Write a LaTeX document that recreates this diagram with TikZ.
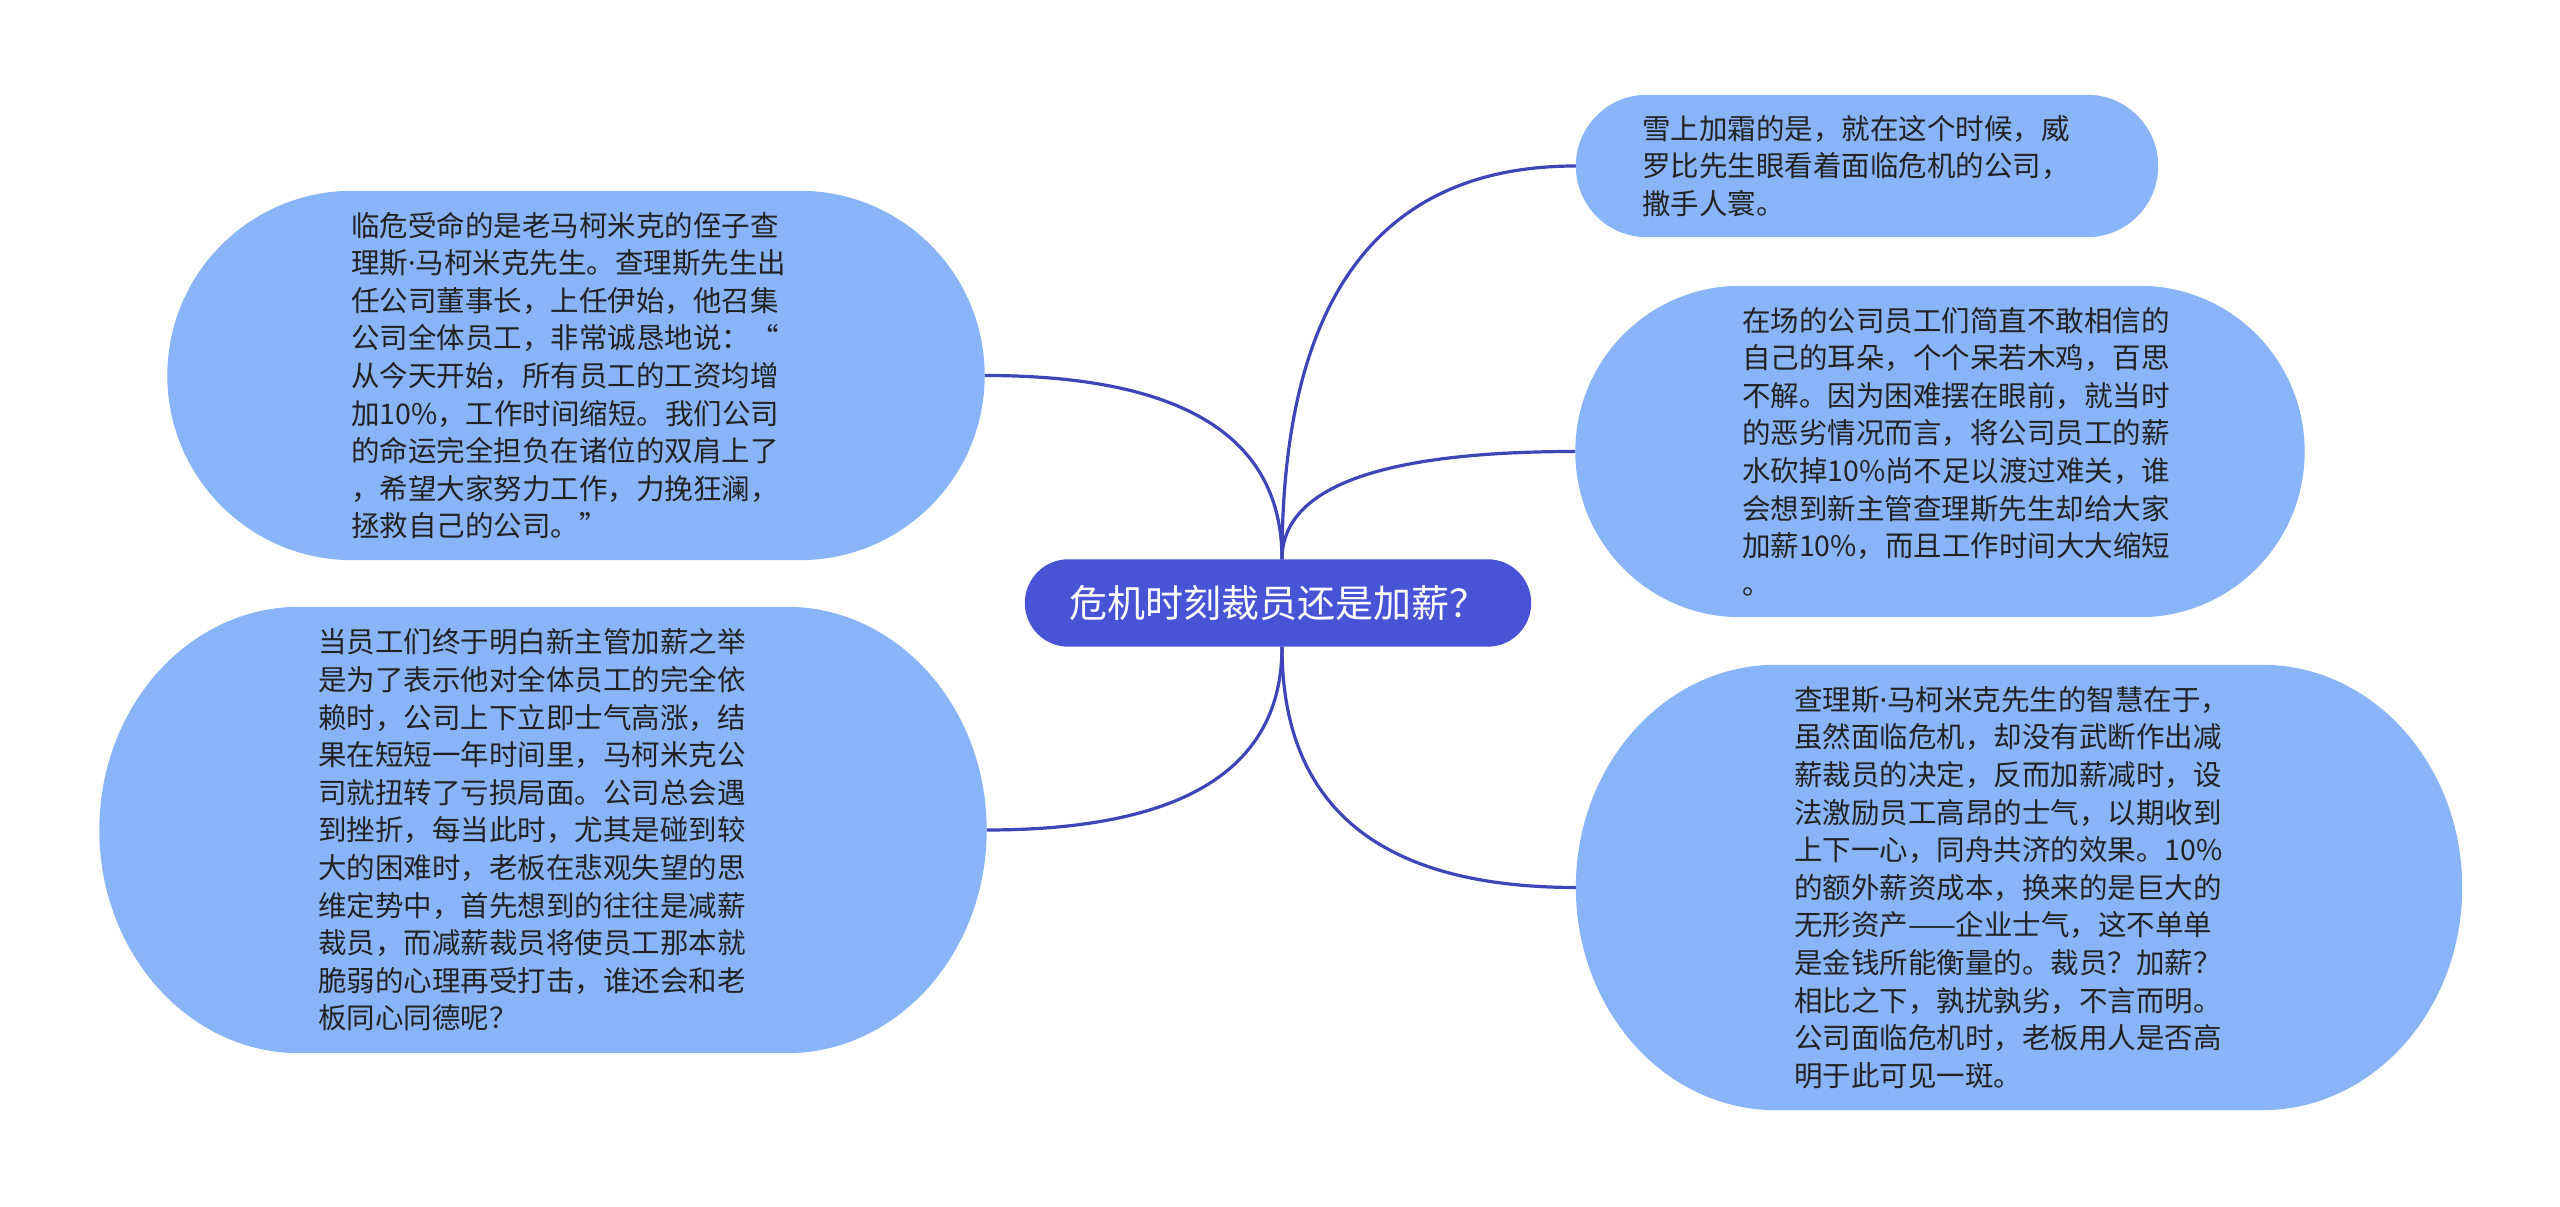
\documentclass[tikz,border=0pt]{standalone}
\usepackage{fontspec}
\setmainfont{Noto Sans CJK SC}
\newfontfamily\latinf{Noto Sans}
\usetikzlibrary{calc,backgrounds}
\definecolor{leaf}{HTML}{8AB4F8}
\definecolor{rootc}{HTML}{4853D6}
\definecolor{linec}{HTML}{3D45B8}
\definecolor{txtc}{HTML}{222222}
\newcommand\mdot{{\latinf ·}}
\newcommand\pill[3]{\fill[#3] let \p1=($(#1.north)-(#1.south)$) in
  ($(#1.north west)+(#2pt,0)$) -- ($(#1.north east)+(-#2pt,0)$)
  arc[start angle=90,end angle=-90,x radius=#2pt,y radius=0.5*\y1]
  -- ($(#1.south west)+(#2pt,0)$)
  arc[start angle=270,end angle=90,x radius=#2pt,y radius=0.5*\y1] -- cycle;}
\newcommand\link[2]{\draw[conn] (#1) .. controls ($(#1)!0.667!(#1|-#2)$) and ($(#2)!0.667!(#1|-#2)$) .. (#2);}
\begin{document}
\begin{tikzpicture}[x=1pt,y=1pt,
  leafnode/.style={rectangle, inner sep=0pt, text=txtc, align=left, text width=450pt,
    font=\fontsize{28.5}{37.6}\selectfont},
  rootnode/.style={rectangle, inner sep=0pt, text=white, align=center,
    font=\fontsize{38}{42}\selectfont, minimum width=506pt, minimum height=87pt},
  conn/.style={draw=linec, line width=3.2pt}]
\useasboundingbox (0,0) rectangle (2560,1207);

\node[rootnode] (root) at (1278,604) {危机时刻裁员还是加薪？};

\node[leafnode, minimum width=817pt, minimum height=369pt] (tl) at (576,831.5)
{临危受命的是老马柯米克的侄子查\\
理斯\mdot 马柯米克先生。查理斯先生出\\
任公司董事长，上任伊始，他召集\\
公司全体员工，非常诚恳地说：“\\
从今天开始，所有员工的工资均增\\
加10\%，工作时间缩短。我们公司\\
的命运完全担负在诸位的双肩上了\\
，希望大家努力工作，力挽狂澜，\\
拯救自己的公司。”};

\node[leafnode, minimum width=887pt, minimum height=446pt] (bl) at (543,377)
{当员工们终于明白新主管加薪之举\\
是为了表示他对全体员工的完全依\\
赖时，公司上下立即士气高涨，结\\
果在短短一年时间里，马柯米克公\\
司就扭转了亏损局面。公司总会遇\\
到挫折，每当此时，尤其是碰到较\\
大的困难时，老板在悲观失望的思\\
维定势中，首先想到的往往是减薪\\
裁员，而减薪裁员将使员工那本就\\
脆弱的心理再受打击，谁还会和老\\
板同心同德呢？};

\node[leafnode, minimum width=582pt, minimum height=142pt] (tr1) at (1867,1041)
{雪上加霜的是，就在这个时候，威\\
罗比先生眼看着面临危机的公司，\\
撒手人寰。};

\node[leafnode, text width=480pt, execute at begin node={\leftskip=42pt},
  minimum width=729pt, minimum height=331pt] (tr2) at (1940,755.5)
{在场的公司员工们简直不敢相信的\\
自己的耳朵，个个呆若木鸡，百思\\
不解。因为困难摆在眼前，就当时\\
的恶劣情况而言，将公司员工的薪\\
水砍掉10\%尚不足以渡过难关，谁\\
会想到新主管查理斯先生却给大家\\
加薪10\%，而且工作时间大大缩短\\
。};

\node[leafnode, minimum width=886pt, minimum height=445pt] (tr3) at (2019,319.5)
{查理斯\mdot 马柯米克先生的智慧在于，\\
虽然面临危机，却没有武断作出减\\
薪裁员的决定，反而加薪减时，设\\
法激励员工高昂的士气，以期收到\\
上下一心，同舟共济的效果。10\%\\
的额外薪资成本，换来的是巨大的\\
无形资产——企业士气，这不单单\\
是金钱所能衡量的。裁员？加薪？\\
相比之下，孰扰孰劣，不言而明。\\
公司面临危机时，老板用人是否高\\
明于此可见一斑。};

\coordinate (rN) at ($(root.north)+(4,0)$);
\coordinate (rS) at ($(root.south)+(4,0)$);

\begin{scope}[on background layer]
\fill[white] (0,0) rectangle (2560,1207);
\link{rN}{tl.east}
\link{rS}{bl.east}
\link{rN}{tr1.west}
\link{rN}{tr2.west}
\link{rS}{tr3.west}
\pill{root}{43.5}{rootc}
\pill{tl}{185}{leaf}
\pill{bl}{200}{leaf}
\pill{tr1}{71}{leaf}
\pill{tr2}{165}{leaf}
\pill{tr3}{200}{leaf}
\end{scope}
\end{tikzpicture}
\end{document}
